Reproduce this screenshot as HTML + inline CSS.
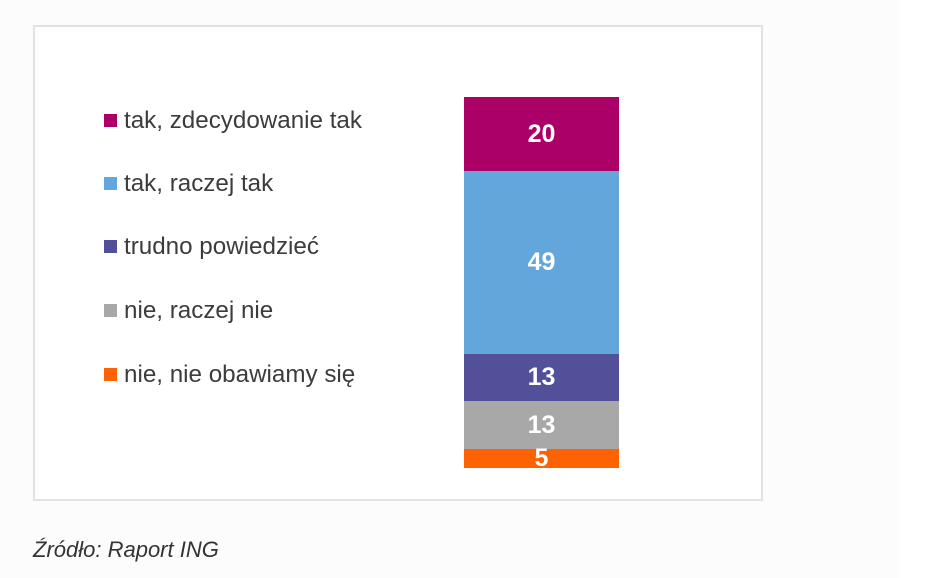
<!DOCTYPE html>
<html><head><meta charset="utf-8"><style>
body{margin:0;width:936px;height:578px;background:#fff;position:relative;overflow:hidden;font-family:"Liberation Sans",sans-serif}
.bg{position:absolute;left:0;top:0;width:900px;height:578px;background:#fcfcfc}
.box{position:absolute;left:33px;top:25px;width:726px;height:472px;border:2px solid #e2e2e2;background:#fff}
.seg{position:absolute;left:464px;width:155px;color:#fff;font-size:25px;font-weight:bold;text-align:center;display:flex;align-items:center;justify-content:center}
.lg{position:absolute;left:104px;font-size:24.2px;color:#3c3c3c;white-space:nowrap;line-height:28px}
.lg i{display:inline-block;width:13px;height:13px;margin-right:7px;vertical-align:1px}
.src{position:absolute;left:33px;top:537px;font-size:22px;font-style:italic;color:#333}
</style></head><body>
<div class="bg"></div>
<div class="box"></div>
<div class="lg" style="top:107px"><i style="background:#ab0066"></i>tak, zdecydowanie tak</div>
<div class="lg" style="top:170px"><i style="background:#62a6db"></i>tak, raczej tak</div>
<div class="lg" style="top:233px"><i style="background:#53509a"></i>trudno powiedzieć</div>
<div class="lg" style="top:297px"><i style="background:#a8a8a8"></i>nie, raczej nie</div>
<div class="lg" style="top:361px"><i style="background:#ff6200"></i>nie, nie obawiamy się</div>
<div class="seg" style="top:97px;height:74px;background:#ab0066">20</div>
<div class="seg" style="top:171px;height:183px;background:#62a6db">49</div>
<div class="seg" style="top:354px;height:47px;background:#53509a">13</div>
<div class="seg" style="top:401px;height:48px;background:#a8a8a8">13</div>
<div class="seg" style="top:449px;height:19px;background:#ff6200">5</div>
<div class="src">Źródło: Raport ING</div>
</body></html>
